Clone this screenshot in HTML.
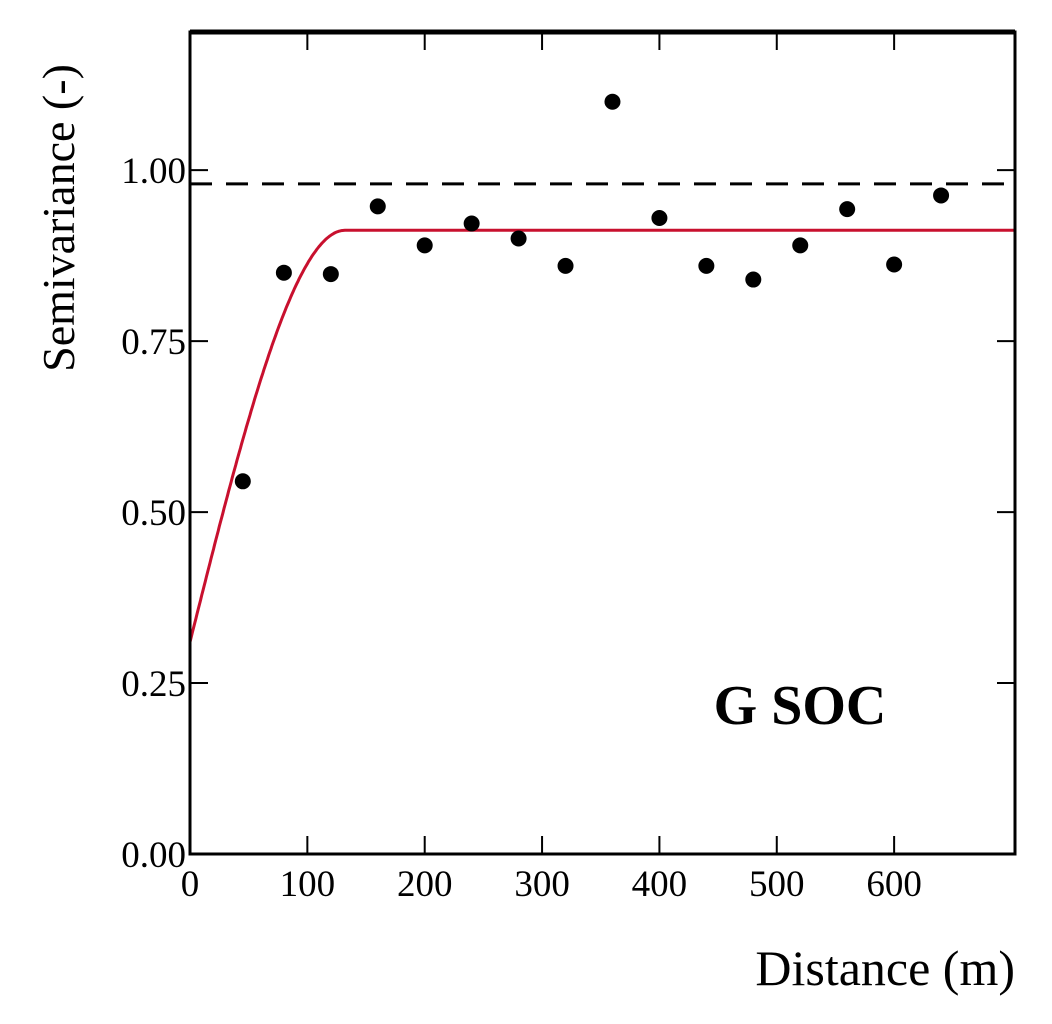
<!DOCTYPE html>
<html><head><meta charset="utf-8"><style>
html,body{margin:0;padding:0;background:#fff;}
svg{display:block;font-family:"Liberation Serif",serif;}
</style></head><body>
<svg id="chart" width="1052" height="1024" viewBox="0 0 1052 1024"></svg>
<script>
const distances=[45,80,120,160,200,240,280,320,360,400,440,480,520,560,600,640];
const semivariance=[0.545,0.85,0.848,0.947,0.89,0.922,0.9,0.86,1.1,0.93,0.86,0.84,0.89,0.943,0.862,0.963];
const xTicks=[0,100,200,300,400,500,600];
const xTickLabels=["0","100","200","300","400","500","600"];
const yTicks=[0,0.25,0.5,0.75,1.0];
const yTickLabels=["0.00","0.25","0.50","0.75","1.00"];
const nugget=0.31, sill=0.912, range=132, sampleVariance=0.98;

const L=190,R=1015,T=32,B=854,xMax=703,yMax=1.202;
const sx=v=>L+(R-L)*v/xMax, sy=v=>B-(B-T)*v/yMax;
const svg=document.getElementById('chart');const NS='http://www.w3.org/2000/svg';
function mk(t,a,p){const e=document.createElementNS(NS,t);for(const k in a)e.setAttribute(k,a[k]);(p||svg).appendChild(e);return e;}

let d='';
for(let h=0;h<=xMax;h+=1){const r=h/range;const g=h>=range?sill:nugget+(sill-nugget)*(1.5*r-0.5*r*r*r);d+=(h?'L':'M')+sx(h).toFixed(1)+' '+sy(g).toFixed(1);}
const curve=mk('path',{d:d,fill:'none',stroke:'#c8102e','stroke-width':3});


const dash=mk('line',{x1:L,x2:R,y1:sy(sampleVariance),y2:sy(sampleVariance),stroke:'#000','stroke-width':3,'stroke-dasharray':'22 14'});



distances.forEach((x,i)=>{const c=mk('circle',{cx:sx(x),cy:sy(semivariance[i]),r:8,fill:'#000'});

});

const fr=mk('rect',{x:L,y:T,width:R-L,height:B-T,fill:'none',stroke:'#000','stroke-width':3});


mk('line',{x1:L,x2:R,y1:T,y2:T,stroke:'#000','stroke-width':5});

xTicks.forEach((v,i)=>{const x=sx(v);
mk('line',{x1:x,x2:x,y1:B,y2:B-18,stroke:'#000','stroke-width':2});
mk('line',{x1:x,x2:x,y1:T,y2:T+18,stroke:'#000','stroke-width':2});
const t=mk('text',{x:x,y:B+42,'font-size':37,'text-anchor':'middle'});t.textContent=xTickLabels[i];

});
yTicks.forEach((v,i)=>{const y=sy(v);
mk('line',{x1:L,x2:L+18,y1:y,y2:y,stroke:'#000','stroke-width':2});
mk('line',{x1:R,x2:R-18,y1:y,y2:y,stroke:'#000','stroke-width':2});
const t=mk('text',{x:L-4,y:y+13,'font-size':37,'text-anchor':'end'});t.textContent=yTickLabels[i];

});

const yt=mk('text',{x:0,y:0,'font-size':46,'text-anchor':'middle',transform:'translate(74,218) rotate(-90)'});yt.textContent='Semivariance (-)';


const xt=mk('text',{x:R,y:985,'font-size':50,'text-anchor':'end'});xt.textContent='Distance (m)';


const lb=mk('text',{x:800,y:724,'font-size':56,'font-weight':'bold','text-anchor':'middle'});lb.textContent='G SOC';


</script>
</body></html>
